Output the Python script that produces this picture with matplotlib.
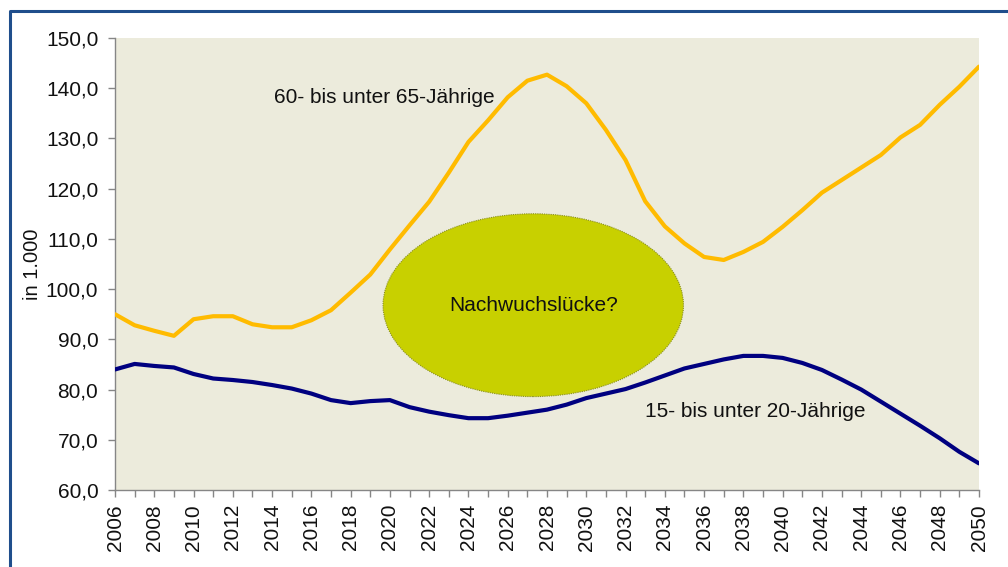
import matplotlib
matplotlib.use("Agg")
import matplotlib.pyplot as plt
from matplotlib.patches import Ellipse
from matplotlib.lines import Line2D
from matplotlib.ticker import MultipleLocator, FixedLocator, FuncFormatter

plt.rcParams['font.family'] = ['Liberation Sans', 'DejaVu Sans']

years = list(range(2006, 2051))
age_60_65 = [95.0, 92.8, 91.7, 90.7, 94.0, 94.6, 94.6, 93.0, 92.4, 92.4,
             93.8, 95.8, 99.3, 102.9, 107.9, 112.7, 117.4, 123.2, 129.3, 133.6,
             138.2, 141.5, 142.7, 140.4, 137.0, 131.7, 125.7, 117.5, 112.5, 109.1,
             106.4, 105.8, 107.4, 109.4, 112.4, 115.7, 119.2, 121.7, 124.2, 126.7,
             130.2, 132.7, 136.7, 140.3, 144.3]
age_15_20 = [84.0, 85.1, 84.7, 84.4, 83.1, 82.2, 81.9, 81.5, 80.9, 80.2,
             79.2, 77.9, 77.3, 77.7, 77.9, 76.5, 75.6, 74.9, 74.3, 74.3,
             74.8, 75.4, 76.0, 77.0, 78.3, 79.2, 80.1, 81.4, 82.8, 84.2,
             85.1, 86.0, 86.7, 86.7, 86.3, 85.3, 83.9, 82.0, 80.0, 77.6,
             75.2, 72.8, 70.3, 67.6, 65.3]
label_60 = "60- bis unter 65-Jährige"
label_15 = "15- bis unter 20-Jährige"
gap_label = "Nachwuchslücke?"
y_label = "in 1.000"

W, H = 1008, 567
fig = plt.figure(figsize=(W / 100, H / 100), dpi=100)
fig.patch.set_facecolor('white')
ax = fig.add_axes([115 / W, 1 - 490 / H, (979 - 115) / W, (490 - 38) / H])
ax.set_facecolor('#ECEBDC')

ax.set_xlim(2006, 2050)
ax.set_ylim(60, 150)

# ellipse "gap"
ell = Ellipse((2027.3, 96.8), width=15.3, height=36.4, facecolor='#C8D000',
              edgecolor='#8A8F20', linestyle=(0, (1, 1)), linewidth=0.8, zorder=2)
ax.add_patch(ell)
ax.text(2027.3, 96.8, gap_label, ha='center', va='center', fontsize=15, color='#111111', zorder=3)

ax.plot(years, age_60_65, color='#FFBB00', linewidth=3.0, zorder=4, solid_capstyle='round')
ax.plot(years, age_15_20, color='#000080', linewidth=3.0, zorder=4, solid_capstyle='round')

ax.text(2019.7, 138.2, label_60, ha='center', va='center', fontsize=15, color='#111111')
ax.text(2038.6, 75.7, label_15, ha='center', va='center', fontsize=15, color='#111111')

# axes styling
for s in ['top', 'right']:
    ax.spines[s].set_visible(False)
for s in ['left', 'bottom']:
    ax.spines[s].set_color('#868686')
    ax.spines[s].set_linewidth(1.0)

ax.yaxis.set_major_locator(MultipleLocator(10))
ax.yaxis.set_major_formatter(FuncFormatter(lambda v, p: f"{v:.1f}".replace('.', ',')))
ax.xaxis.set_major_locator(FixedLocator(years[::2]))
ax.xaxis.set_minor_locator(FixedLocator(years))
ax.set_xticklabels([str(y) for y in years[::2]], rotation=90)
ax.tick_params(axis='both', which='both', direction='out', color='#868686', length=5, width=1,
               labelsize=15, labelcolor='#111111')
ax.tick_params(axis='x', which='major', pad=5)
ax.tick_params(axis='y', which='major', pad=7)

ax.set_ylabel(y_label, fontsize=14.5, color='#111111', labelpad=3)

# blue border (left and top)
fig.add_artist(Line2D([9.5 / W, 9.5 / W, 1.0], [0.0, 1 - 10.5 / H, 1 - 10.5 / H],
                      transform=fig.transFigure, color='#1F4E8C', linewidth=2.2))

fig.savefig('out.png', dpi=100)
